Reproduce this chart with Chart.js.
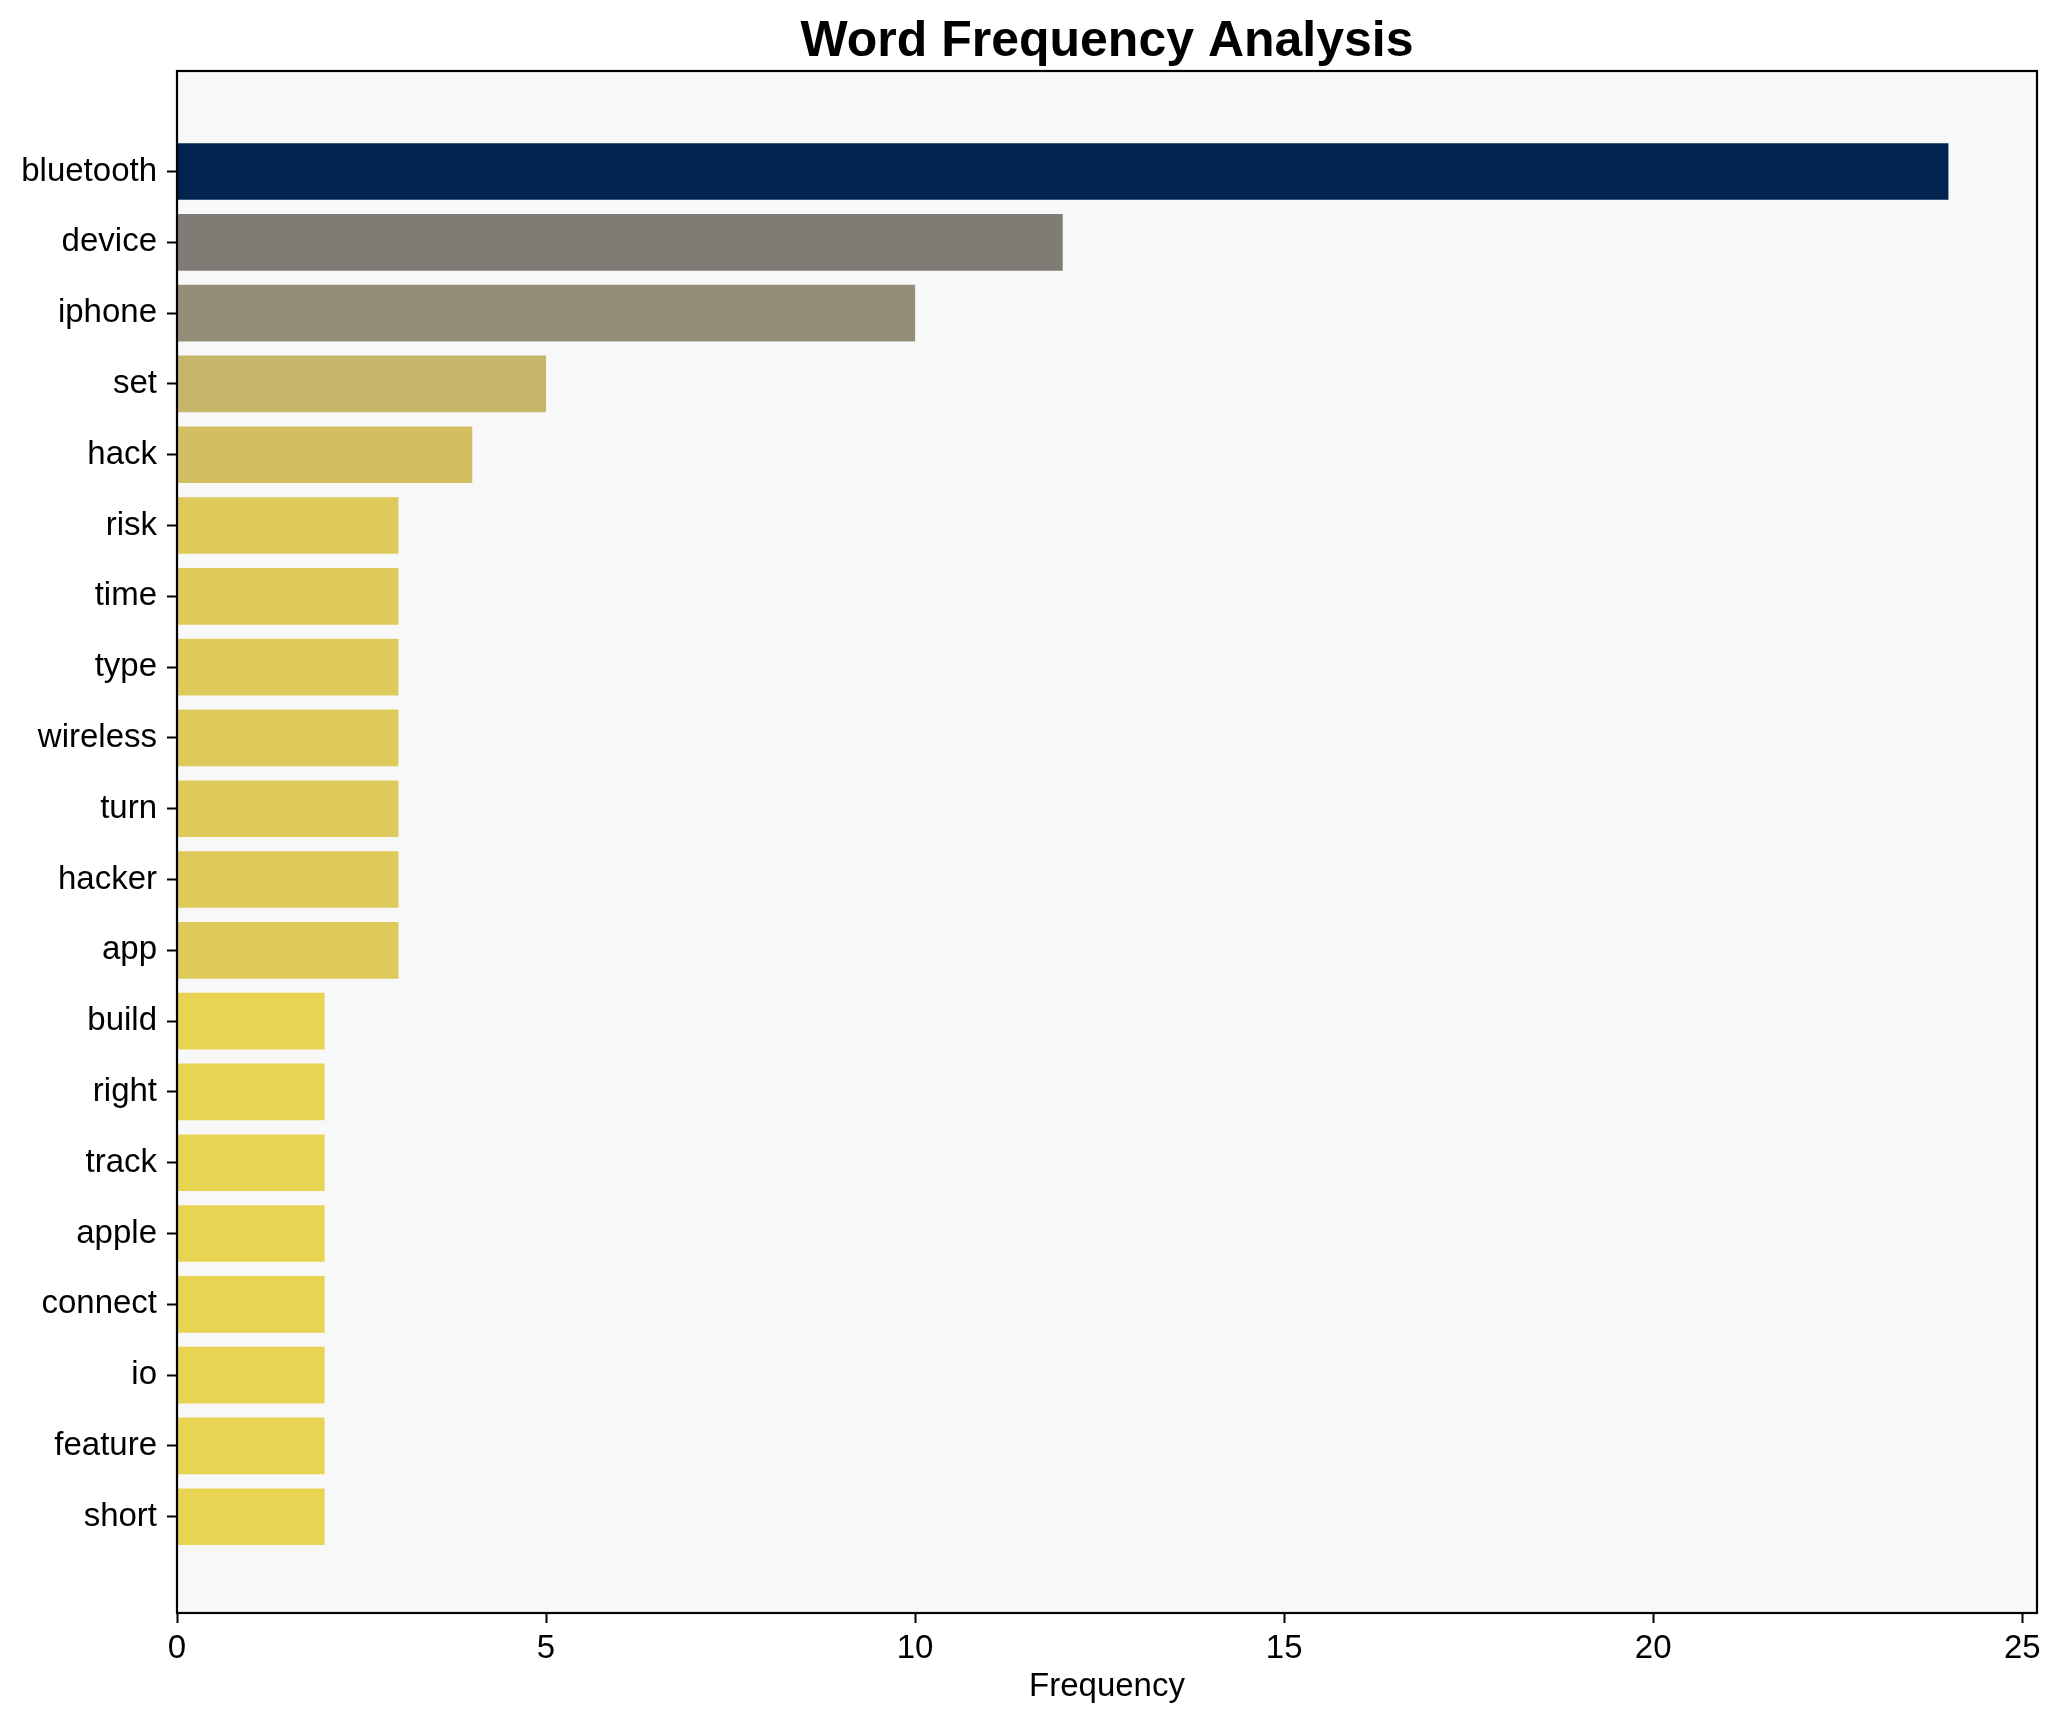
<!DOCTYPE html>
<html>
<head>
<meta charset="utf-8">
<script src="https://cdn.jsdelivr.net/npm/chart.js@4.4.1/dist/chart.umd.min.js"></script>
<style>
  body { margin: 0; background: #fff; }
</style>
</head>
<body>
<canvas id="bar-chart" width="2059" height="1722"></canvas>
<script>
var words = ["bluetooth", "device", "iphone", "set", "hack", "risk", "time", "type", "wireless", "turn",
             "hacker", "app", "build", "right", "track", "apple", "connect", "io", "feature", "short"];
var counts = [24, 12, 10, 5, 4, 3, 3, 3, 3, 3, 3, 3, 2, 2, 2, 2, 2, 2, 2, 2];
var xTicks = [0, 5, 10, 15, 20, 25];

// colours (cividis-like)
var barColors = ["#002350", "#7f7c75", "#948d77", "#c6b66b", "#d3bf61",
                 "#deca5a", "#deca5a", "#deca5a", "#deca5a", "#deca5a", "#deca5a", "#deca5a",
                 "#e8d352", "#e8d352", "#e8d352", "#e8d352", "#e8d352", "#e8d352", "#e8d352", "#e8d352"];

var font = "'Liberation Sans', Arial, sans-serif";

var points = words.map(function(w, i) { return {x: counts[i], y: i}; });

var frame = {
  id: 'frame',
  beforeDraw: function(chart) {
    var a = chart.chartArea, ctx = chart.ctx;
    ctx.save();
    ctx.fillStyle = "#f8f8f8";
    ctx.fillRect(a.left, a.top, a.right - a.left, a.bottom - a.top);
    ctx.restore();
  },
  afterDraw: function(chart) {
    var a = chart.chartArea, ctx = chart.ctx;
    ctx.save();
    ctx.strokeStyle = "#000";
    ctx.lineWidth = 2.2;
    ctx.strokeRect(a.left, a.top, a.right - a.left, a.bottom - a.top);
    ctx.restore();
  }
};

new Chart(document.getElementById("bar-chart"), {
  type: 'bar',
  data: {
    datasets: [{
      label: "Frequency",
      data: points,
      backgroundColor: barColors,
      barPercentage: 0.8,
      categoryPercentage: 1.0
    }]
  },
  plugins: [frame],
  options: {
    indexAxis: 'y',
    responsive: false,
    animation: false,
    devicePixelRatio: 1,
    layout: { padding: { left: 0, right: 22, top: 0, bottom: 0 } },
    plugins: {
      legend: { display: false },
      tooltip: { enabled: false },
      title: {
        display: true,
        fullSize: false,
        text: 'Word Frequency Analysis',
        color: "#000",
        font: { family: font, size: 50, weight: 'bold' },
        padding: { top: 12, bottom: -1 }
      }
    },
    scales: {
      x: {
        type: 'linear',
        min: 0,
        max: 25.2,
        offset: false,
        afterBuildTicks: function(axis) {
          axis.ticks = xTicks.map(function(v) { return {value: v}; });
        },
        afterFit: function(axis) { axis.height = 109; },
        border: { display: false },
        grid: { offset: false, drawOnChartArea: false, drawTicks: true, tickLength: 10, tickColor: "#000", tickWidth: 2 },
        ticks: { color: "#000", padding: 6, maxRotation: 0, font: { family: font, size: 33 } },
        title: {
          display: true,
          text: 'Frequency',
          color: "#000",
          font: { family: font, size: 33 },
          padding: { top: 0, bottom: 15 }
        }
      },
      y: {
        type: 'linear',
        reverse: true,
        min: -1.42,
        max: 20.36,
        offset: false,
        afterBuildTicks: function(axis) {
          axis.ticks = words.map(function(w, i) { return {value: i}; });
        },
        afterFit: function(axis) { axis.width = 177; },
        border: { display: false },
        grid: { offset: false, drawOnChartArea: false, drawTicks: true, tickLength: 10, tickColor: "#000", tickWidth: 2 },
        ticks: {
          color: "#000",
          padding: 10,
          font: { family: font, size: 33 },
          callback: function(v) { return words[v]; }
        }
      }
    }
  }
});
</script>
</body>
</html>
